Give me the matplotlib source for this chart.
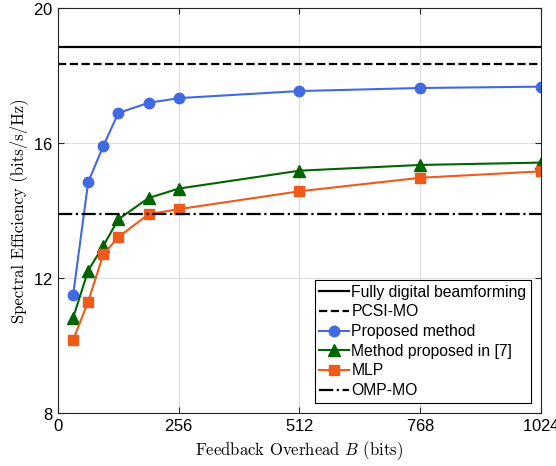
import matplotlib.pyplot as plt
import numpy as np

plt.rcParams['font.family'] = ['Liberation Sans', 'DejaVu Sans']
plt.rcParams['mathtext.fontset'] = 'cm'
plt.rcParams['axes.formatter.use_mathtext'] = True

bits = [32, 64, 96, 128, 192, 256, 512, 768, 1024]
fully_digital = 18.84
pcsi_mo = 18.34
omp_mo = 13.90
proposed = [11.49, 14.84, 15.91, 16.89, 17.19, 17.33, 17.54, 17.63, 17.67]
method7 = [10.82, 12.22, 12.95, 13.74, 14.37, 14.65, 15.18, 15.35, 15.42]
mlp = [10.16, 11.30, 12.70, 13.21, 13.89, 14.04, 14.57, 14.97, 15.16]

fig = plt.figure(figsize=(5.56, 4.66), dpi=100)
ax = fig.add_axes([0.1043, 0.1137, 0.8687, 0.8691])

ax.axhline(fully_digital, color='black', lw=1.6, label='Fully digital beamforming')
ax.axhline(pcsi_mo, color='black', lw=1.6, ls='--', label='PCSI-MO')
ax.plot(bits, proposed, color='#4169E1', lw=1.5, marker='o', ms=7.5, label='Proposed method')
ax.plot(bits, method7, color='#006400', lw=1.5, marker='^', ms=8, label='Method proposed in [7]')
ax.plot(bits, mlp, color='#EE5A1A', lw=1.5, marker='s', ms=6.5, label='MLP')
ax.axhline(omp_mo, color='black', lw=1.6, ls='-.', label='OMP-MO')

ax.set_xlim(0, 1024)
ax.set_ylim(8, 20)
ax.set_xticks([0, 256, 512, 768, 1024])
ax.set_yticks([8, 12, 16, 20])
ax.tick_params(direction='in', top=True, right=True, labelsize=12, length=4, color='#262626')
ax.grid(True, color='#dddddd', lw=0.8)
for s in ax.spines.values():
    s.set_color('#262626')

ax.set_xlabel('Feedback Overhead $B$ (bits)', fontsize=12, family='cmr10')
ax.set_ylabel('Spectral Efficiency (bits/s/Hz)', fontsize=12, family='cmr10')

leg = ax.legend(loc='lower right', bbox_to_anchor=(0.98, 0.025), fontsize=11.3,
                fancybox=False, framealpha=1, edgecolor='black',
                handlelength=1.9, handletextpad=0.15, labelspacing=0.3,
                borderpad=0.3, borderaxespad=0)
leg.get_frame().set_linewidth(0.8)

fig.savefig('out.png', dpi=100)
